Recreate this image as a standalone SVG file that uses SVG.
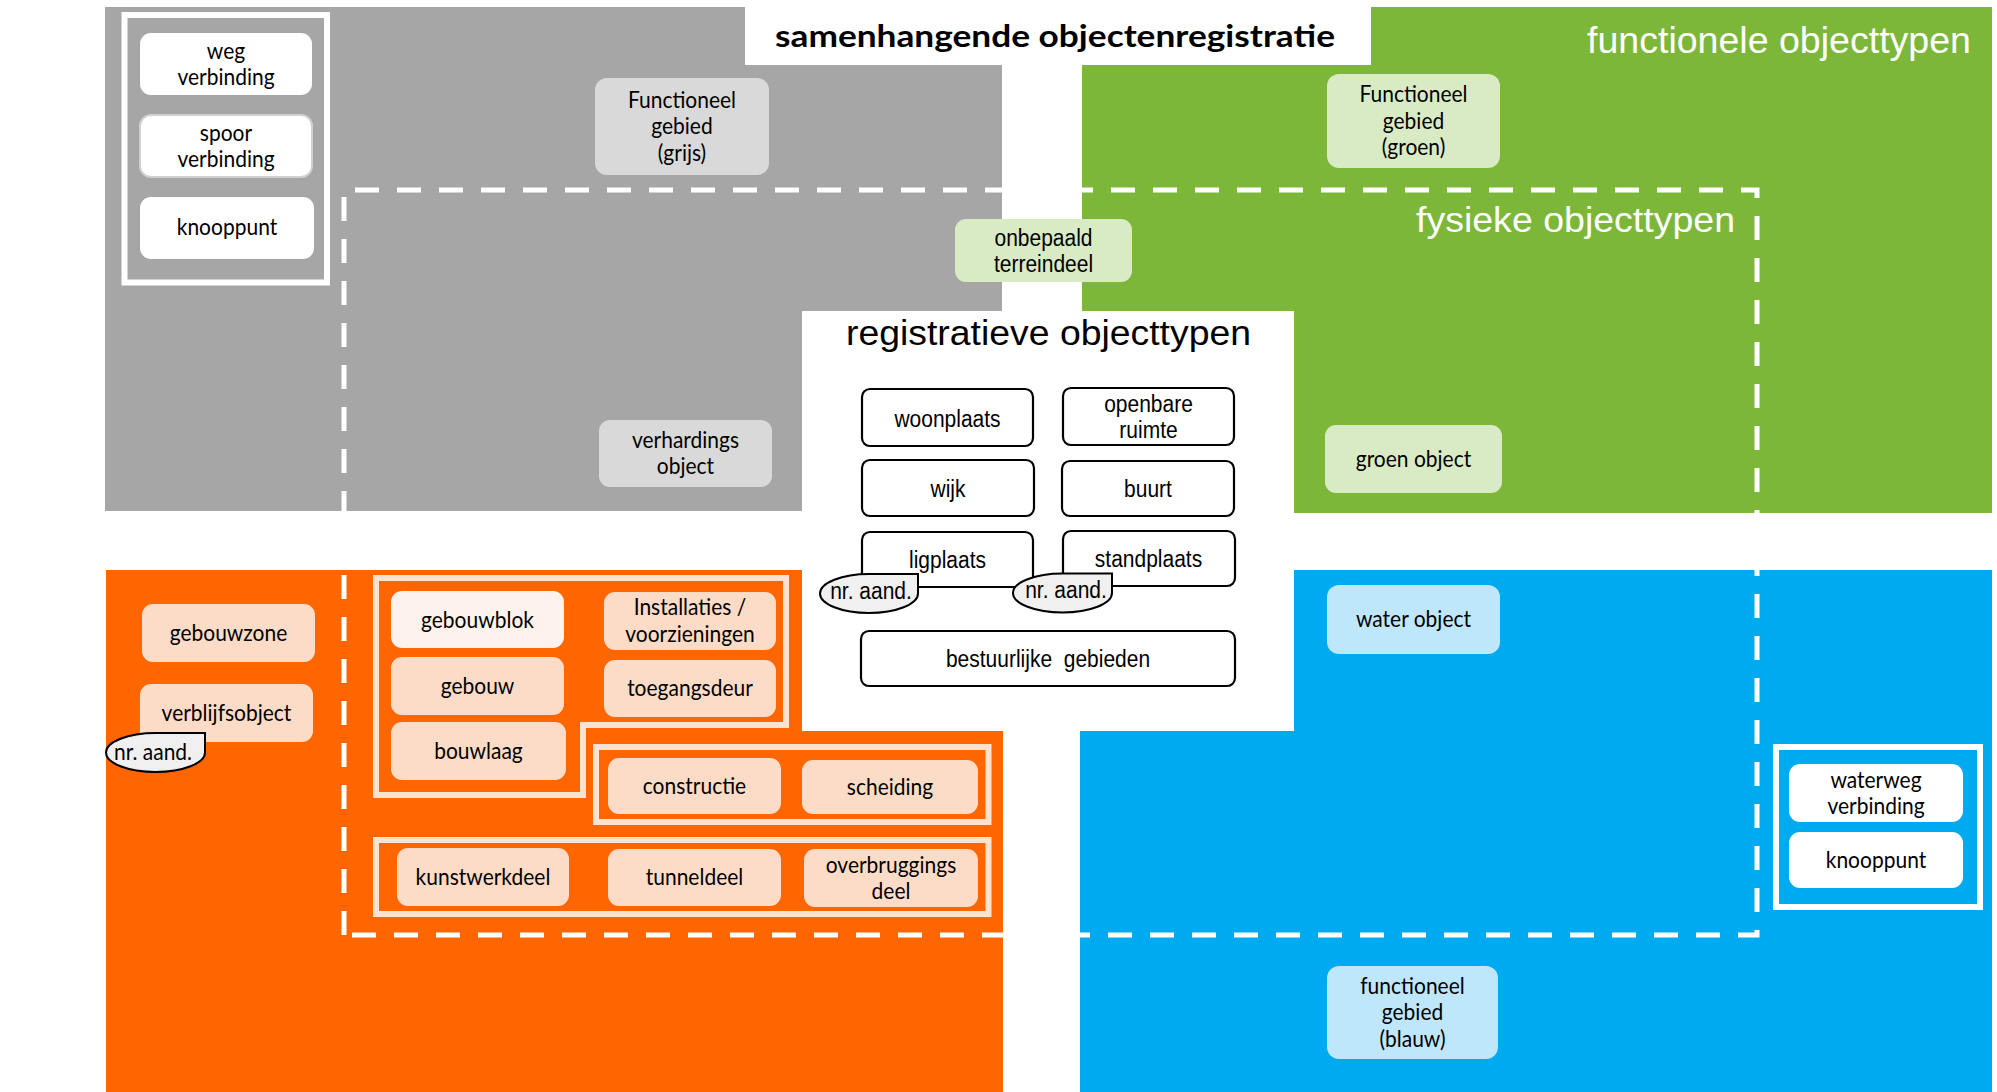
<svg xmlns="http://www.w3.org/2000/svg" width="1997" height="1092" viewBox="0 0 1997 1092">
<style>
.c{font-family:Lato,"Liberation Sans",sans-serif;font-size:21px;fill:#000;text-anchor:middle}
.a{font-family:"Liberation Sans",Arial,sans-serif;font-size:21px;fill:#000;text-anchor:middle}
.c,.a{transform-box:fill-box;transform-origin:center;transform:scaleY(1.12)}
.hd{font-family:"Liberation Sans",Arial,sans-serif;fill:#fff}
.wn{fill:#fff;stroke:none}
.gn{fill:#d9d9d9}
.ln{fill:#d8ebc4}
.on{fill:#fcdcc7}
.bn{fill:#bfe7fb}
.rn{fill:#fff;stroke:#000;stroke-width:2.2}
.fr{fill:none;stroke-width:6}
.tear{fill:#f0f0f0;stroke:#000;stroke-width:2}
.dash{fill:none;stroke:#fff;stroke-width:5;stroke-dasharray:24 18}
</style>

<g id="regions">
  <rect x="105" y="7" width="897" height="504" fill="#a6a6a6"/>
  <rect x="1082" y="7" width="910" height="506" fill="#7db73a"/>
  <rect x="106" y="570" width="897" height="522" fill="#ff6600"/>
  <rect x="1080" y="570" width="912" height="522" fill="#00aaf0"/>
  <path class="dash" d="M344,935 V190 H1757 V935 Z"/>
  <rect x="802" y="311" width="492" height="420" fill="#fff"/>
  <rect x="745" y="0" width="626" height="65" fill="#fff"/>
</g>

<g id="titles">
  <text x="775" y="47" font-family="Lato,'Liberation Sans',sans-serif" font-weight="bold" font-size="30" textLength="560" lengthAdjust="spacingAndGlyphs">samenhangende objectenregistratie</text>
  <text class="hd" x="1587" y="53" font-size="37" textLength="384" lengthAdjust="spacingAndGlyphs">functionele objecttypen</text>
  <text class="hd" x="1416" y="232" font-size="35" textLength="319" lengthAdjust="spacingAndGlyphs">fysieke objecttypen</text>
  <text x="846" y="345" font-family="'Liberation Sans',Arial,sans-serif" font-size="35" fill="#000" textLength="405" lengthAdjust="spacingAndGlyphs">registratieve objecttypen</text>
</g>

<g id="connectors"></g>

<!-- gray region -->
<g id="frame-grijs"><rect class="fr" x="124.5" y="15" width="202.5" height="267.5" stroke="#fff"/></g>
<g id="wegverbinding"><rect class="wn" x="140" y="33" width="172" height="62" rx="11"/><text class="c" x="226" y="58">weg</text><text class="c" x="226" y="84">verbinding</text></g>
<g id="spoorverbinding"><rect x="140" y="115" width="172" height="62" rx="11" fill="#fff" stroke="#d0d0d0" stroke-width="2"/><text class="c" x="226" y="140">spoor</text><text class="c" x="226" y="166">verbinding</text></g>
<g id="knooppunt-grijs"><rect class="wn" x="140" y="197" width="174" height="62" rx="11"/><text class="c" x="227" y="234">knooppunt</text></g>
<g id="functioneelgebied-grijs"><rect class="gn" x="595" y="78" width="174" height="97" rx="12"/><text class="c" x="682" y="107">Functioneel</text><text class="c" x="682" y="133">gebied</text><text class="c" x="682" y="160">(grijs)</text></g>
<g id="verhardingsobject"><rect class="gn" x="599" y="420" width="173" height="67" rx="11"/><text class="c" x="685.5" y="447">verhardings</text><text class="c" x="685.5" y="473">object</text></g>
<g id="onbepaaldterreindeel"><rect class="ln" x="955" y="219" width="177" height="63" rx="11"/><text class="a" x="1043.5" y="245">onbepaald</text><text class="a" x="1043.5" y="271">terreindeel</text></g>

<!-- green region -->
<g id="functioneelgebied-groen"><rect class="ln" x="1327" y="74" width="173" height="94" rx="12"/><text class="c" x="1413.5" y="101.5">Functioneel</text><text class="c" x="1413.5" y="128">gebied</text><text class="c" x="1413.5" y="154.5">(groen)</text></g>
<g id="groenobject"><rect class="ln" x="1325" y="425" width="177" height="68" rx="11"/><text class="c" x="1413.5" y="466">groen object</text></g>

<!-- center registratieve -->
<g id="woonplaats"><rect class="rn" x="862" y="389" width="171" height="57" rx="8"/><text class="a" x="947.5" y="426">woonplaats</text></g>
<g id="openbareruimte"><rect class="rn" x="1063" y="388" width="171" height="57" rx="8"/><text class="a" x="1148.5" y="411">openbare</text><text class="a" x="1148.5" y="437.5">ruimte</text></g>
<g id="wijk"><rect class="rn" x="862" y="460" width="172" height="56" rx="8"/><text class="a" x="948" y="496">wijk</text></g>
<g id="buurt"><rect class="rn" x="1062" y="461" width="172" height="55" rx="8"/><text class="a" x="1148" y="496">buurt</text></g>
<g id="ligplaats"><rect class="rn" x="862" y="532" width="171" height="55" rx="8"/><text class="a" x="947.5" y="567">ligplaats</text></g>
<g id="standplaats"><rect class="rn" x="1063" y="531" width="172" height="55" rx="8"/><text class="a" x="1148.5" y="566">standplaats</text></g>
<g id="nraand-ligplaats"><path class="tear" d="M820,593.5 A49,19.5 0 0 1 869,574 H918 V593.5 A49,19.5 0 0 1 869,613 A49,19.5 0 0 1 820,593.5 Z"/><text class="a" x="871" y="598" font-size="22">nr. aand.</text></g>
<g id="nraand-standplaats"><path class="tear" d="M1013,593 A49.5,19.5 0 0 1 1062.5,573.5 H1112 V593 A49.5,19.5 0 0 1 1062.5,612.5 A49.5,19.5 0 0 1 1013,593 Z"/><text class="a" x="1066" y="597.5" font-size="22">nr. aand.</text></g>
<g id="bestuurlijkegebieden"><rect class="rn" x="861" y="631" width="374" height="55" rx="8"/><text class="a" x="1048" y="666" xml:space="preserve">bestuurlijke  gebieden</text></g>

<!-- orange region -->
<g id="gebouwzone"><rect class="on" x="142" y="604" width="173" height="58" rx="11"/><text class="c" x="228.5" y="640">gebouwzone</text></g>
<g id="verblijfsobject"><rect class="on" x="140" y="684" width="173" height="58" rx="11"/><text class="c" x="226.5" y="720">verblijfsobject</text></g>
<g id="nraand-verblijfsobject"><path class="tear" d="M106,752.5 A49.5,19.5 0 0 1 155.5,733 H205 V752.5 A49.5,19.5 0 0 1 155.5,772 A49.5,19.5 0 0 1 106,752.5 Z"/><text class="c" x="153" y="759" font-size="20">nr. aand.</text></g>
<g id="frame-gebouw"><path class="fr" d="M376,578 H786 V725 H583 V795 H376 Z" stroke="#fbe3d2"/></g>
<g id="gebouwblok"><rect x="391" y="591" width="173" height="57" rx="11" fill="#fdf2ec"/><text class="c" x="477.5" y="627">gebouwblok</text></g>
<g id="installaties"><rect class="on" x="604" y="592" width="172" height="58" rx="11"/><text class="c" x="690" y="614.5">Installaties /</text><text class="c" x="690" y="641">voorzieningen</text></g>
<g id="gebouw"><rect class="on" x="391" y="657" width="173" height="58" rx="11"/><text class="c" x="477.5" y="693">gebouw</text></g>
<g id="toegangsdeur"><rect class="on" x="604" y="660" width="172" height="57" rx="11"/><text class="c" x="690" y="695.5">toegangsdeur</text></g>
<g id="bouwlaag"><rect class="on" x="391" y="722" width="175" height="58" rx="11"/><text class="c" x="478.5" y="758">bouwlaag</text></g>
<g id="frame-constructie"><rect class="fr" x="596" y="747" width="392.5" height="75" stroke="#fbe3d2"/></g>
<g id="constructie"><rect class="on" x="608" y="758" width="173" height="56" rx="11"/><text class="c" x="694.5" y="793">constructie</text></g>
<g id="scheiding"><rect class="on" x="802" y="760" width="176" height="54" rx="11"/><text class="c" x="890" y="794">scheiding</text></g>
<g id="frame-kunstwerk"><rect class="fr" x="376" y="840" width="612.5" height="74" stroke="#fbe3d2"/></g>
<g id="kunstwerkdeel"><rect class="on" x="397" y="848" width="172" height="58" rx="11"/><text class="c" x="483" y="884">kunstwerkdeel</text></g>
<g id="tunneldeel"><rect class="on" x="608" y="849" width="173" height="57" rx="11"/><text class="c" x="694.5" y="884.5">tunneldeel</text></g>
<g id="overbruggingsdeel"><rect class="on" x="804" y="849" width="174" height="58" rx="11"/><text class="c" x="891" y="872">overbruggings</text><text class="c" x="891" y="898">deel</text></g>

<!-- blue region -->
<g id="waterobject"><rect class="bn" x="1327" y="585" width="173" height="69" rx="12"/><text class="c" x="1413.5" y="626">water object</text></g>
<g id="frame-water"><rect class="fr" x="1776" y="747" width="204" height="160" stroke="#fff"/></g>
<g id="waterwegverbinding"><rect class="wn" x="1789" y="764" width="174" height="58" rx="11"/><text class="c" x="1876" y="787">waterweg</text><text class="c" x="1876" y="813">verbinding</text></g>
<g id="knooppunt-water"><rect class="wn" x="1789" y="832" width="174" height="56" rx="11"/><text class="c" x="1876" y="867">knooppunt</text></g>
<g id="functioneelgebied-blauw"><rect class="bn" x="1327" y="966" width="171" height="93" rx="12"/><text class="c" x="1412.5" y="993">functioneel</text><text class="c" x="1412.5" y="1019.5">gebied</text><text class="c" x="1412.5" y="1046">(blauw)</text></g>
</svg>
